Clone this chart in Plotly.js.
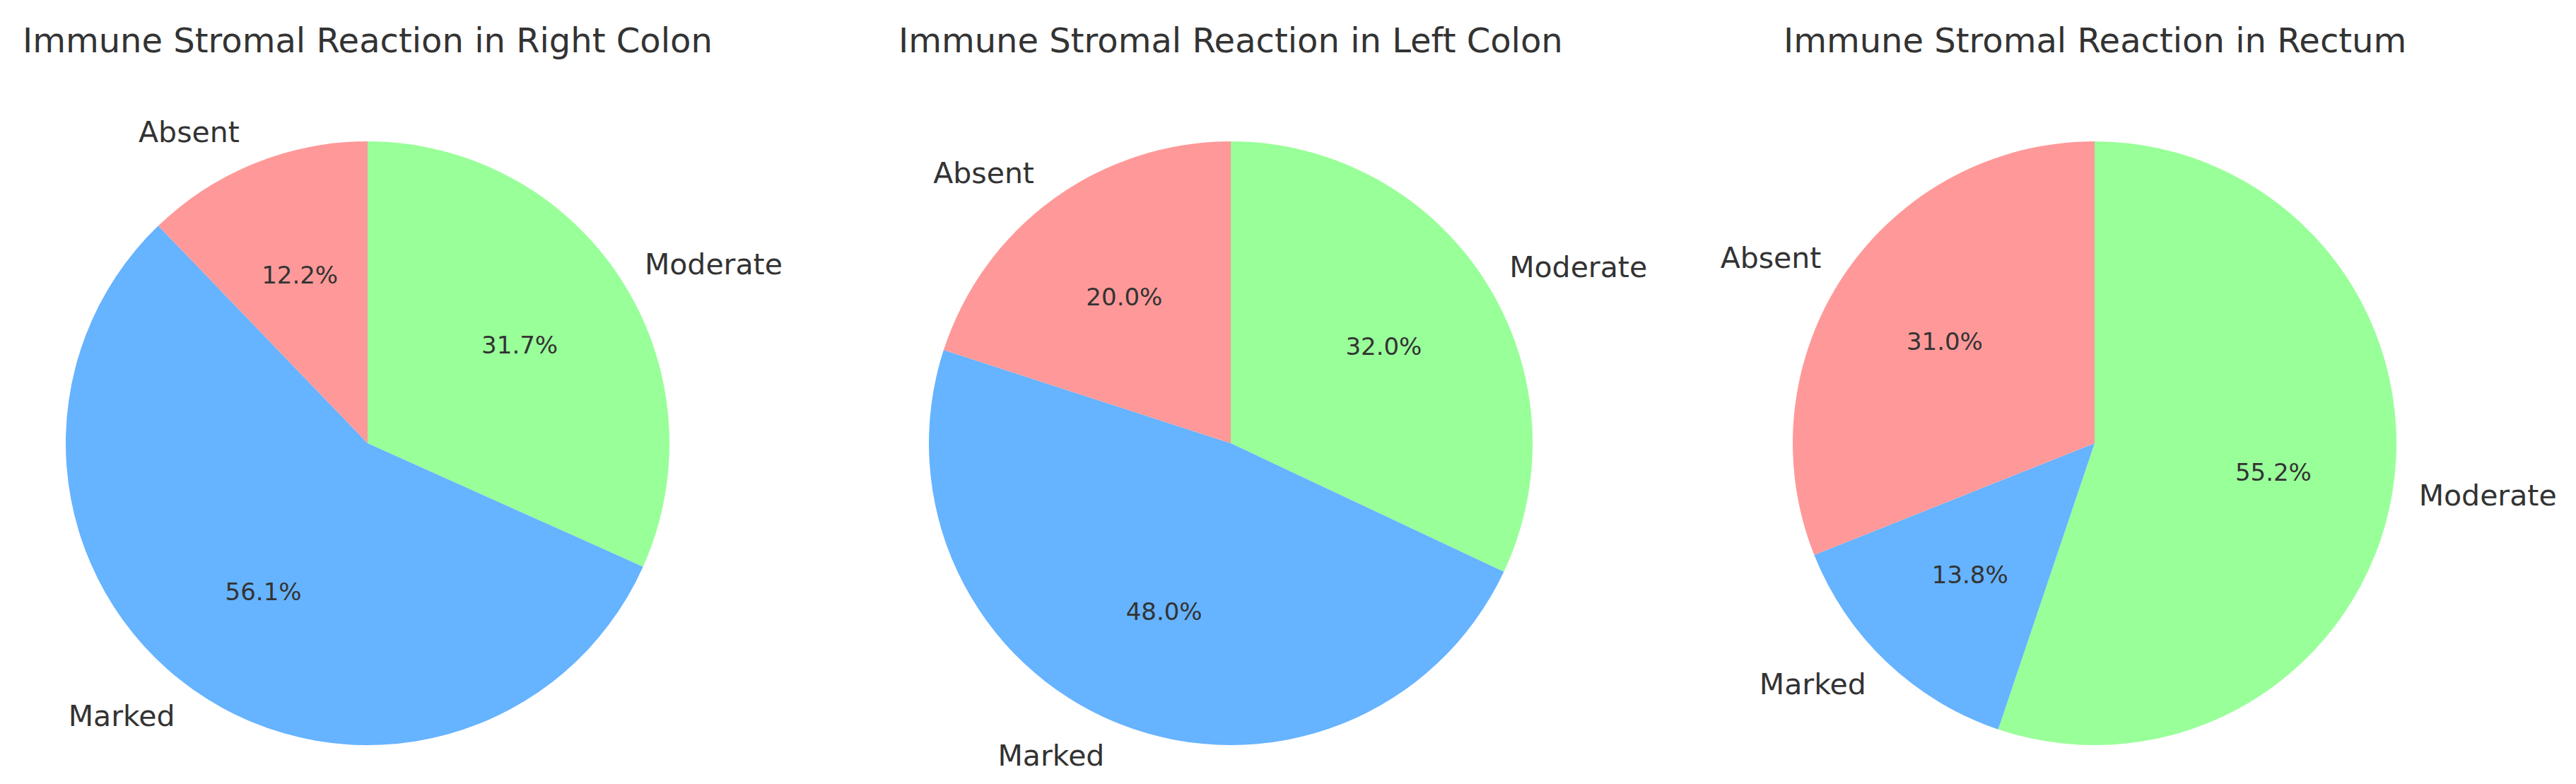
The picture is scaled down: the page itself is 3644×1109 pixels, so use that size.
<!DOCTYPE html>
<html>
<head>
<meta charset="utf-8">
<script src="https://cdn.plot.ly/plotly-3.0.1.min.js"></script>
<style>html,body{margin:0;padding:0;background:#fff;}#chart{width:3644px;height:1109px;}</style>
</head>
<body>
<div id="chart"></div>
<script>
// ---- data ----
const categories = ["Absent", "Marked", "Moderate"];
const regions = ["Right Colon", "Left Colon", "Rectum"];
const rightColon = [5, 23, 13];
const leftColon = [5, 12, 8];
const rectum = [9, 4, 16];
const colors = ["#ff9999", "#66b3ff", "#99ff99"];

// ---- layout constants ----
const W = 3644, H = 1109;
const centersX = [520, 1741, 2963];
const centerY = 627;
const R = 427;
const labelScale = 1.06;   // transparent label ring, slightly larger than the pie
const pctScale = 0.825;    // transparent percent ring, with a hole so text sits at ~0.6 R
const pctHole = 0.455;
const textColor = "#333333";
const font = "DejaVu Sans, Verdana, sans-serif";
const clear = ["rgba(0,0,0,0)", "rgba(0,0,0,0)", "rgba(0,0,0,0)"];

// The reference starts the first slice at 12 o'clock and goes counter-clockwise;
// Plotly's counter-clockwise mode ends the first slice at 12 o'clock, so draw the
// same order reversed, clockwise.
const rev = a => a.slice().reverse();

function dom(cx, r) {
  return {
    x: [(cx - r) / W, (cx + r) / W],
    y: [(H - centerY - r) / H, (H - centerY + r) / H]
  };
}

const seriesList = [rightColon, leftColon, rectum];
const traces = [];
const annotations = [];

seriesList.forEach((vals, i) => {
  const common = {
    type: "pie",
    values: rev(vals),
    labels: rev(categories),
    sort: false,
    direction: "clockwise",
    rotation: 0,
    showlegend: false
  };
  // coloured pie
  traces.push(Object.assign({}, common, {
    domain: dom(centersX[i], R),
    marker: {colors: rev(colors), line: {width: 0}},
    textinfo: "none",
    hoverinfo: "label+percent"
  }));
  // category labels outside
  traces.push(Object.assign({}, common, {
    domain: dom(centersX[i], R * labelScale),
    marker: {colors: clear, line: {width: 0}},
    textinfo: "label",
    textposition: "outside",
    outsidetextfont: {family: font, size: 41, color: textColor},
    hoverinfo: "skip"
  }));
  // percentages inside
  traces.push(Object.assign({}, common, {
    domain: dom(centersX[i], R * pctScale),
    hole: pctHole,
    marker: {colors: clear, line: {width: 0}},
    texttemplate: "%{percent:.1%}",
    textposition: "inside",
    insidetextorientation: "horizontal",
    insidetextfont: {family: font, size: 34, color: textColor},
    hoverinfo: "skip"
  }));
  annotations.push({
    text: "Immune Stromal Reaction in " + regions[i],
    xref: "paper", yref: "paper",
    x: centersX[i] / W, y: 1 - 57 / H,
    xanchor: "center", yanchor: "middle",
    showarrow: false,
    font: {family: font, size: 48, color: textColor}
  });
});

const layout = {
  width: W, height: H,
  margin: {l: 0, r: 0, t: 0, b: 0, pad: 0},
  paper_bgcolor: "#ffffff",
  plot_bgcolor: "#ffffff",
  showlegend: false,
  annotations: annotations,
  font: {family: font, color: textColor}
};

Plotly.newPlot("chart", traces, layout, {displayModeBar: false, staticPlot: true});
</script>
</body>
</html>
